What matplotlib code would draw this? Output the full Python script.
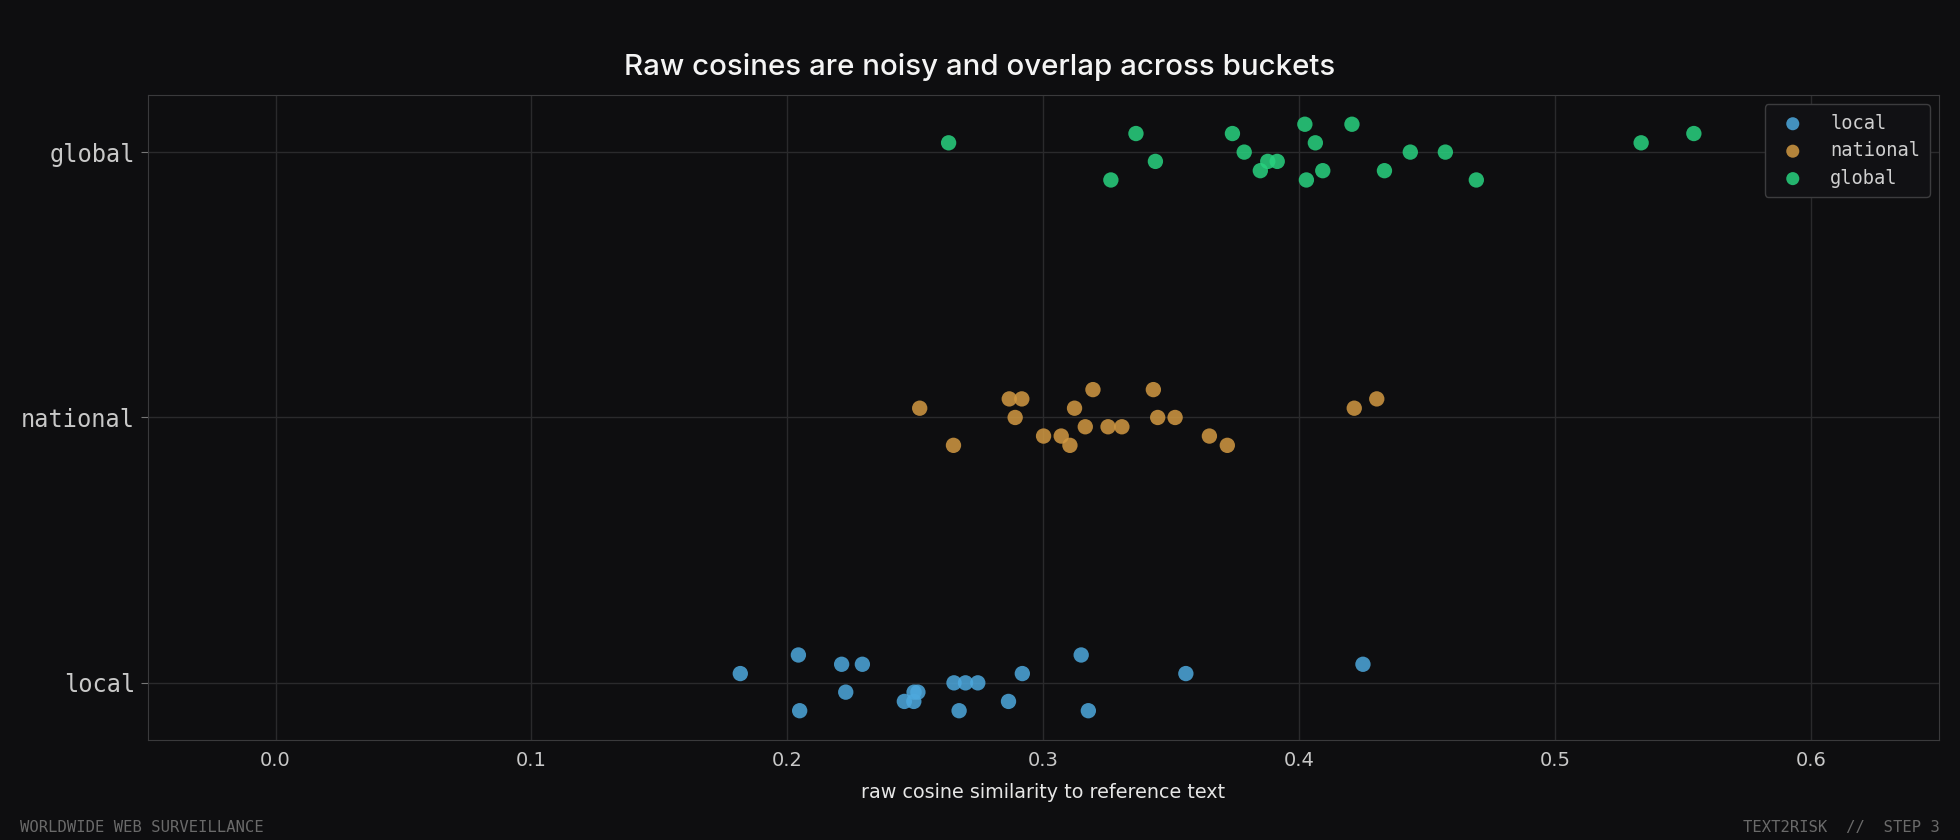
import matplotlib.pyplot as plt
import numpy as np

# bucket names, bottom to top
buckets = ['local', 'national', 'global']
colors = {'local': '#4da8dd', 'national': '#d29942', 'global': '#28d27f'}

# raw cosine per sample, with the jitter step (-3..3) used for the strip
local_x = [0.1816, 0.2043, 0.2048, 0.2212, 0.2293, 0.2228, 0.2457, 0.2494, 0.2495, 0.2510,
           0.2651, 0.2696, 0.2744, 0.2671, 0.2864, 0.2918, 0.3148, 0.3176, 0.3557, 0.4249]
local_j = [1, 3, -3, 2, 2, -1, -2, -2, -1, -1, 0, 0, 0, -3, -2, 1, 3, -3, 1, 2]

national_x = [0.2517, 0.2649, 0.2867, 0.2916, 0.2890, 0.3001, 0.3070, 0.3104, 0.3122, 0.3164,
              0.3194, 0.3253, 0.3307, 0.3430, 0.3447, 0.3515, 0.3649, 0.3719, 0.4215, 0.4303]
national_j = [1, -3, 2, 2, 0, -2, -2, -3, 1, -1, 3, -1, -1, 3, 0, 0, -2, -3, 1, 2]

global_x = [0.2630, 0.3362, 0.3264, 0.3438, 0.3739, 0.3785, 0.3848, 0.3877, 0.3914, 0.4022,
            0.4028, 0.4063, 0.4092, 0.4206, 0.4333, 0.4434, 0.4571, 0.4692, 0.5336, 0.5542]
global_j = [1, 2, -3, -1, 2, 0, -2, -1, -1, 3, -3, 1, -2, 3, -2, 0, 0, -3, 1, 2]

xs = {'local': local_x, 'national': national_x, 'global': global_x}
js = {'local': local_j, 'national': national_j, 'global': global_j}
jitter_step = 0.035

bg = '#0e0e10'
plt.rcParams['font.family'] = ['DejaVu Sans']

fig = plt.figure(figsize=(19.6, 8.4), dpi=100, facecolor=bg)
ax = fig.add_axes([0.0753, 0.119, 0.914, 0.768])
ax.set_facecolor(bg)

for i, b in enumerate(buckets):
    y = i + np.array(js[b]) * jitter_step
    ax.scatter(xs[b], y, s=122, color=colors[b], alpha=0.85, edgecolors='none',
               label=b, zorder=3)

ax.set_xlim(-0.05, 0.65)
ax.set_xticks(np.arange(0, 0.61, 0.1))
ax.set_xticklabels([f'{v:.1f}' for v in np.arange(0, 0.61, 0.1)])
ax.set_yticks(range(len(buckets)))
ax.set_yticklabels(buckets, family='DejaVu Sans Mono', fontsize=17)

ax.grid(True, color='#2a2a2c', linewidth=1)
ax.set_axisbelow(True)
for s in ax.spines.values():
    s.set_color('#3a3a3c')
ax.tick_params(axis='x', colors='#c8c8c8', labelsize=14, length=0, pad=8)
ax.tick_params(axis='y', colors='#c8c8c8', length=5, color='#777777', pad=4)

ax.set_xlabel('raw cosine similarity to reference text', color='#e6e6e6',
              fontsize=13.8, labelpad=9)
fig.text(0.5, 0.92, 'Raw cosines are noisy and overlap across buckets',
         ha='center', va='center', color='#f4f4f4', fontsize=21.2, family='Inter',
         fontweight='medium')

leg = ax.legend(loc='upper right', prop={'family': 'DejaVu Sans Mono', 'size': 13.5},
                facecolor='#111114', edgecolor='#3c3c3e', framealpha=1,
                borderpad=0.5, handletextpad=1.0, labelspacing=0.45, markerscale=0.85)
for t in leg.get_texts():
    t.set_color('#cfcfcf')

fig.text(0.0102, 0.0149, 'WORLDWIDE WEB SURVEILLANCE', color='#6a6a6a', fontsize=11.2,
         family='DejaVu Sans Mono', ha='left', va='center')
fig.text(0.9895, 0.0149, 'TEXT2RISK  //  STEP 3', color='#6a6a6a', fontsize=11.2,
         family='DejaVu Sans Mono', ha='right', va='center')

fig.savefig('out.png', dpi=100, facecolor=bg)
